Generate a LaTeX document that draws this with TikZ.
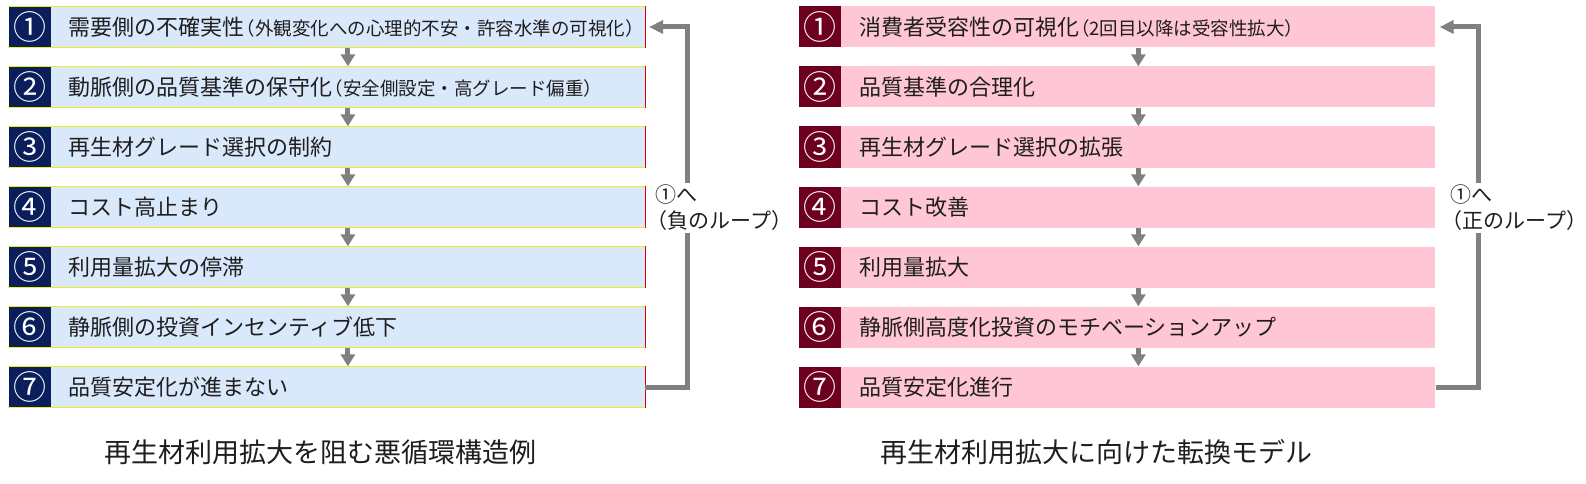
\documentclass[tikz,border=0pt]{standalone}
\usepackage{fontspec}
\newfontfamily\jp{Noto Sans CJK JP}
\usetikzlibrary{arrows.meta}
\definecolor{lfillc}{RGB}{218,232,252}
\definecolor{lsqc}{RGB}{10,30,92}
\definecolor{rfillc}{RGB}{255,199,214}
\definecolor{rsqc}{RGB}{108,0,30}
\definecolor{arrc}{RGB}{128,128,128}
\definecolor{txtc}{RGB}{30,30,30}
\definecolor{edgeyc}{RGB}{238,238,30}
\definecolor{edgerc}{RGB}{220,0,0}
\newcommand\jpsub[1]{{\fontsize{18.5}{22}\selectfont\hspace{-0.45em}#1}}
\tikzset{
  sqbox/.style={minimum width=42pt, minimum height=41pt, inner sep=0pt, text=white,
    font=\jp\fontsize{33}{33}\selectfont},
  lsqbox/.style={sqbox, fill=lsqc},
  rsqbox/.style={sqbox, fill=rsqc},
  barbox/.style={anchor=west, minimum height=41pt, inner xsep=18pt, inner ysep=0pt,
    text width=558pt, align=left, text=txtc, font=\jp\fontsize{22}{26}\selectfont},
  lbarbox/.style={barbox, fill=lfillc},
  rbarbox/.style={barbox, fill=rfillc},
  rowarr/.style={draw=arrc, line width=5pt, -{Triangle[width=14pt,length=12pt]}},
  looparr/.style={draw=arrc, line width=5pt, shorten >=4pt, -{Triangle[width=13pt,length=14pt]}},
  looplab/.style={fill=white, inner xsep=2pt, inner ysep=2pt, align=left, text=txtc,
    font=\jp\fontsize{21}{26}\selectfont},
  caption/.style={text=txtc, font=\jp\fontsize{27}{30}\selectfont},
  edgey/.style={draw=edgeyc, line width=0.9pt},
  edger/.style={draw=edgerc, line width=0.9pt},
}
\begin{document}
\begin{tikzpicture}[x=1pt, y=-1pt]
\useasboundingbox[fill=white] (0,0) rectangle (1586,484);

% ---------- left panel ----------
\foreach \i/\n/\t in {1/①/{需要側の不確実性\jpsub{（外観変化への心理的不安・許容水準の可視化）}},
                      2/②/{動脈側の品質基準の保守化\jpsub{（安全側設定・高グレード偏重）}},
                      3/③/{再生材グレード選択の制約},
                      4/④/{コスト高止まり},
                      5/⑤/{利用量拡大の停滞},
                      6/⑥/{静脈側の投資インセンティブ低下},
                      7/⑦/{品質安定化が進まない}} {
  \node[lsqbox] (ls\i) at (29.5, {27+60*(\i-1)}) {\n};
  \node[lbarbox] (lb\i) at (ls\i.east) {\t};
  \draw[edgey] (ls\i.north west) -- (lb\i.north east);
  \draw[edgey] (ls\i.south west) -- (lb\i.south east);
  \draw[edger] (lb\i.north east) -- (lb\i.south east);
}
\foreach \i [evaluate=\i as \j using int(\i+1)] in {1,...,6}
  \draw[rowarr] (lb\i) -- (lb\j);

\coordinate (lloop) at (687,0);
\draw[looparr] (lb7.east) -- (lb7.east -| lloop) -- (lb1.east -| lloop) -- (lb1.east);
\node[looplab] (llab) at (724,208) {①へ\\\hspace*{-0.45em}（負のループ）};
\node[caption] (lcap) at (320,452) {再生材利用拡大を阻む悪循環構造例};

% ---------- right panel ----------
\foreach \i/\n/\t in {1/①/{消費者受容性の可視化\jpsub{（2回目以降は受容性拡大）}},
                      2/②/{品質基準の合理化},
                      3/③/{再生材グレード選択の拡張},
                      4/④/{コスト改善},
                      5/⑤/{利用量拡大},
                      6/⑥/{静脈側高度化投資のモチベーションアップ},
                      7/⑦/{品質安定化進行}} {
  \node[rsqbox] (rs\i) at (820, {27+60*(\i-1)}) {\n};
  \node[rbarbox] (rb\i) at (rs\i.east) {\t};
}
\foreach \i [evaluate=\i as \j using int(\i+1)] in {1,...,6}
  \draw[rowarr] (rb\i) -- (rb\j);

\coordinate (rloop) at (1478,0);
\draw[looparr] (rb7.east) -- (rb7.east -| rloop) -- (rb1.east -| rloop) -- (rb1.east);
\node[looplab] (rlab) at (1519,208) {①へ\\\hspace*{-0.45em}（正のループ）};
\node[caption] (rcap) at (1096,452) {再生材利用拡大に向けた転換モデル};
\end{tikzpicture}
\end{document}
